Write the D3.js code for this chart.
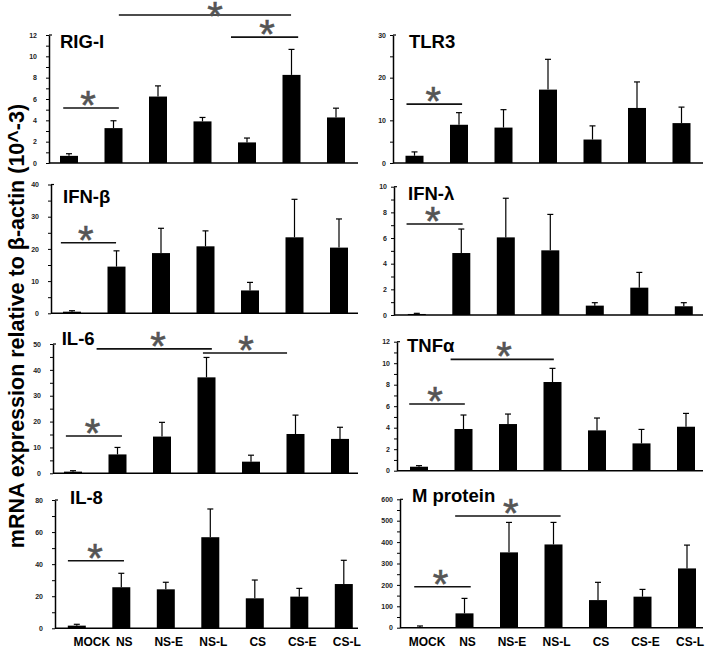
<!DOCTYPE html>
<html><head><meta charset="utf-8">
<script src="https://cdn.jsdelivr.net/npm/d3@7"></script>
<style>
html,body{margin:0;padding:0;background:#fff;}
svg{display:block;font-family:"Liberation Sans",Arial,sans-serif;}
</style></head>
<body>
<script>
// ---------- DATA ----------
const categories = ["MOCK","NS","NS-E","NS-L","CS","CS-E","CS-L"];

const rigMean  = [0.67, 3.27, 6.23, 3.9, 1.93, 8.26, 4.27];
const rigSD    = [0.2, 0.69, 1.0, 0.37, 0.41, 2.39, 0.87];
const tlr3Mean = [1.7, 8.96, 8.3, 17.2, 5.5, 12.9, 9.35];
const tlr3SD   = [0.9, 2.84, 4.2, 7.1, 3.2, 6.1, 3.75];
const ifnbMean = [0.5, 14.5, 18.7, 20.8, 7.1, 23.6, 20.4];
const ifnbSD   = [0.3, 4.9, 7.7, 4.8, 2.5, 11.8, 8.9];
const ifnlMean = [0.08, 4.83, 6.05, 5.04, 0.73, 2.13, 0.68];
const ifnlSD   = [0.05, 1.87, 3.05, 2.8, 0.23, 1.19, 0.28];
const il6Mean  = [0.64, 7.3, 14.2, 37.1, 4.5, 15.2, 13.3];
const il6SD    = [0.36, 2.7, 5.5, 7.7, 2.5, 7.3, 4.5];
const tnfMean  = [0.37, 3.88, 4.34, 8.25, 3.75, 2.54, 4.09];
const tnfSD    = [0.1, 1.3, 0.93, 1.27, 1.15, 1.3, 1.24];
const il8Mean  = [1.66, 25.6, 24.3, 56.8, 18.7, 19.75, 27.6];
const il8SD    = [0.84, 8.7, 4.4, 17.6, 11.4, 5.15, 14.8];
const mprMean  = [3, 67, 352, 389, 129, 145, 277];
const mprSD    = [5, 70, 140, 103, 83, 34, 109];

// y-axis maxima and label steps
const yMax   = {rig:12, tlr3:30, ifnb:40, ifnl:10, il6:50, tnf:12, il8:80, mpr:600};
const yStep  = {rig:2, tlr3:10, ifnb:10, ifnl:2, il6:10, tnf:2, il8:20, mpr:100};

// significance comparisons: [from index, to index, height (data units), star index]
const rigSig  = [[1.12, 4.99, 13.87, 3.28], [3.64, 5.15, 11.8, 4.45], [-0.13, 1.12, 5.15, 0.43]];
const tlr3Sig = [[-0.18, 1.07, 13.8, 0.42]];
const ifnbSig = [[-0.25, 0.99, 21.9, 0.31]];
const ifnlSig = [[-0.23, 1.03, 7.09, 0.36]];
const il6Sig  = [[0.53, 3.12, 48.1, 1.91], [2.92, 4.81, 46.5, 3.89], [-0.16, 1.1, 14.4, 0.44]];
const tnfSig  = [[0.71, 3.03, 10.36, 1.91], [-0.22, 1.03, 6.2, 0.36]];
const il8Sig  = [[-0.2, 1.06, 42.1, 0.41]];
const mprSig  = [[0.79, 3.16, 522, 2.04], [-0.13, 1.14, 191.6, 0.46]];

const yTitle = "mRNA expression relative to β-actin (10^-3)";

// ---------- LAYOUT ----------
const W = 708, H = 648;
const panels = [
  {title:"RIG-I",     mean:rigMean,  sd:rigSD,  max:yMax.rig,  step:yStep.rig,  sig:rigSig,  ax:49,  c0:69,    y0:163,   h:128,   tx:60,  ty:48,    right:false, xl:false},
  {title:"TLR3",      mean:tlr3Mean, sd:tlr3SD, max:yMax.tlr3, step:yStep.tlr3, sig:tlr3Sig, ax:393, c0:414.5, y0:163,   h:128,   tx:409, ty:48,    right:true,  xl:false},
  {title:"IFN-β",     mean:ifnbMean, sd:ifnbSD, max:yMax.ifnb, step:yStep.ifnb, sig:ifnbSig, ax:51,  c0:72,    y0:313.3, h:128.8, tx:63,  ty:202.7, right:false, xl:false},
  {title:"IFN-λ",     mean:ifnlMean, sd:ifnlSD, max:yMax.ifnl, step:yStep.ifnl, sig:ifnlSig, ax:394, c0:416.8, y0:315,   h:128.3, tx:408, ty:199.5, right:true,  xl:false},
  {title:"IL-6",      mean:il6Mean,  sd:il6SD,  max:yMax.il6,  step:yStep.il6,  sig:il6Sig,  ax:53,  c0:73,    y0:473.3, h:129.3, tx:61.7,ty:345,   right:false, xl:false},
  {title:"TNFα",      mean:tnfMean,  sd:tnfSD,  max:yMax.tnf,  step:yStep.tnf,  sig:tnfSig,  ax:397, c0:419,   y0:470.7, h:129,   tx:407, ty:352.3, right:true,  xl:false},
  {title:"IL-8",      mean:il8Mean,  sd:il8SD,  max:yMax.il8,  step:yStep.il8,  sig:il8Sig,  ax:55,  c0:76.8,  y0:628.3, h:128.3, tx:70,  ty:504,   right:false, xl:true},
  {title:"M protein", mean:mprMean,  sd:mprSD,  max:yMax.mpr,  step:yStep.mpr,  sig:mprSig,  ax:400, c0:420,   y0:627.7, h:128.4, tx:412, ty:501.7, right:true,  xl:true}
];
const bandStep = 44.5, barW = 18, capW = 6;

const svg = d3.select("body").append("svg").attr("width", W).attr("height", H);

// y-axis title
svg.append("text")
  .attr("transform", "translate(24,326) rotate(-90)")
  .attr("text-anchor", "middle")
  .attr("font-weight", "bold")
  .attr("font-size", 21.5)
  .attr("fill", "#000")
  .text(yTitle);

panels.forEach(p => {
  const g = svg.append("g");
  const x = d3.scalePoint().domain(categories).range([p.c0, p.c0 + bandStep * (categories.length - 1)]);
  const xi = d3.scaleLinear().domain([0, categories.length - 1]).range(x.range());
  const y = d3.scaleLinear().domain([0, p.max]).range([p.y0, p.y0 - p.h]);
  const axEnd = p.right ? 703 : 358;

  // y axis
  const minor = d3.range(0, p.max + 1e-9, p.step / 2);
  const yAxis = d3.axisLeft(y).tickValues(minor).tickSize(3).tickSizeOuter(0)
    .tickPadding(p.right ? 4 : 9)
    .tickFormat(d => (Math.abs(d / p.step - Math.round(d / p.step)) < 1e-9) ? d3.format("d")(d) : "");
  const ga = g.append("g").attr("transform", `translate(${p.ax},0)`).call(yAxis);
  ga.select(".domain").attr("stroke", "#000").attr("stroke-width", 1.5);
  ga.selectAll(".tick line").attr("stroke", "#000").attr("stroke-width", 1);
  ga.selectAll(".tick text").attr("font-size", 7).attr("font-weight", "bold")
    .attr("fill", "#222").attr("font-family", "'Liberation Sans',Arial,sans-serif");
  // small inward tick at top
  g.append("line").attr("x1", p.ax).attr("x2", p.ax + 3)
    .attr("y1", y(p.max)).attr("y2", y(p.max)).attr("stroke", "#000").attr("stroke-width", 1.2);

  // x axis baseline
  g.append("line").attr("x1", p.ax).attr("x2", axEnd)
    .attr("y1", y(0)).attr("y2", y(0)).attr("stroke", "#000").attr("stroke-width", 1.5);

  // bars
  const rows = categories.map((c, i) => ({c, m: p.mean[i], s: p.sd[i]}));
  g.selectAll("rect.bar").data(rows).join("rect")
    .attr("class", "bar")
    .attr("x", d => x(d.c) - barW / 2)
    .attr("width", barW)
    .attr("y", d => y(d.m))
    .attr("height", d => y(0) - y(d.m))
    .attr("fill", "#000");

  // error bars (upper only)
  g.selectAll("line.err").data(rows).join("line")
    .attr("class", "err")
    .attr("x1", d => x(d.c)).attr("x2", d => x(d.c))
    .attr("y1", d => y(d.m)).attr("y2", d => y(d.m + d.s))
    .attr("stroke", "#000").attr("stroke-width", 1.2);
  g.selectAll("line.cap").data(rows).join("line")
    .attr("class", "cap")
    .attr("x1", d => x(d.c) - capW / 2).attr("x2", d => x(d.c) + capW / 2)
    .attr("y1", d => y(d.m + d.s)).attr("y2", d => y(d.m + d.s))
    .attr("stroke", "#000").attr("stroke-width", 1.2);

  // title
  g.append("text").attr("x", p.tx).attr("y", p.ty)
    .attr("font-weight", "bold").attr("font-size", 18.5).attr("fill", "#000")
    .text(p.title);

  // significance lines and stars
  const starFs = 40;
  p.sig.forEach(s => {
    g.append("line")
      .attr("x1", xi(s[0])).attr("x2", xi(s[1]))
      .attr("y1", y(s[2])).attr("y2", y(s[2]))
      .attr("stroke", "#111").attr("stroke-width", 1.6);
    g.append("text")
      .attr("x", xi(s[3])).attr("y", Math.max(y(s[2]) - 9, 9.5) + 0.5 * starFs)
      .attr("text-anchor", "middle")
      .attr("font-size", starFs).attr("fill", "#555")
      .attr("stroke", "#555").attr("stroke-width", 0.6)
      .text("*");
  });

  // category labels
  if (p.xl) {
    g.selectAll("text.cat").data(categories).join("text")
      .attr("class", "cat")
      .attr("x", d => x(d) + (d === "MOCK" ? (p.right ? 7 : 15) : 3))
      .attr("y", 646)
      .attr("text-anchor", "middle")
      .attr("font-weight", "bold").attr("font-size", 12).attr("fill", "#000")
      .text(d => d);
  }
});
</script>
</body></html>
